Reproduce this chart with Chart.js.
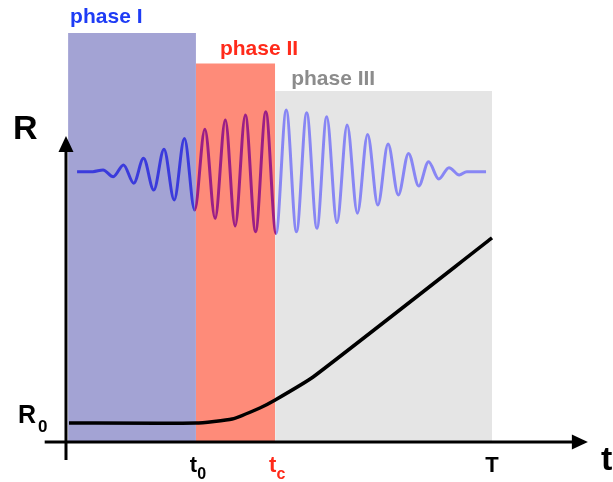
<!DOCTYPE html>
<html>
<head>
<meta charset="utf-8">
<script src="https://cdn.jsdelivr.net/npm/chart.js@4/dist/chart.umd.min.js"></script>
<style>
  html, body { margin: 0; padding: 0; background: #fff; }
  #wrap { width: 613px; height: 482px; }
</style>
</head>
<body>
<div id="wrap"><canvas id="phaseChart" width="613" height="482"></canvas></div>
<script>
// phases (time units: origin = 0, T = 10 ; R units: R0 = 1)
const phaseNames = ['phase I', 'phase II', 'phase III'];
const phaseStart = [0.05, 3.05, 4.91];
const phaseEnd = [3.05, 4.91, 10.0];
const phaseTop = [21.53, 19.92, 18.47];

// signal wave, read peak by peak
const waveT = [0.26, 0.63, 0.87, 1.11, 1.35, 1.59, 1.82, 2.06, 2.30, 2.54,
  2.78, 3.02, 3.26, 3.50, 3.74, 3.97, 4.21, 4.45, 4.69, 4.93,
  5.17, 5.41, 5.65, 5.89, 6.12, 6.36, 6.60, 6.84, 7.08, 7.32,
  7.56, 7.80, 8.04, 8.28, 8.51, 8.75, 8.99, 9.23, 9.41, 9.86];
const waveR = [14.23, 14.23, 14.32, 13.96, 14.58, 13.62, 14.93, 13.26, 15.41, 12.74,
  15.98, 12.21, 16.46, 11.77, 16.95, 11.37, 17.21, 11.07, 17.38, 10.98,
  17.47, 11.07, 17.33, 11.25, 17.12, 11.55, 16.68, 12.04, 16.19, 12.47,
  15.68, 13.0, 15.19, 13.47, 14.75, 13.84, 14.44, 14.05, 14.23, 14.23];

// R(t) curve
const curveT = [0.07, 3.05, 3.90, 4.55, 4.91, 5.80, 10.0];
const curveR = [1.0, 1.0, 1.21, 1.79, 2.21, 3.42, 10.74];

// axis marks
const tickT = [3.05, 4.91, 10.0];
const tickMain = ['t', 't', 'T'];
const tickSub = ['0', 'c', ''];
const levelR0 = 1.0;

const rectColors = ['#a3a3d4', '#fe8b79', '#e5e5e5'];
const waveColors = ['#3b3bdc', '#9b1f86', '#8886f4'];
const labelColors = ['#1e3cf5', '#ff2a1a', '#8c8c8c'];
const tickColors = ['#000', '#ff2a1a', '#000'];
const FONT = '"Liberation Sans", Arial, sans-serif';

function toPoints(xs, ys) {
  return xs.map((v, i) => ({ x: v, y: ys[i] }));
}

const rectSets = phaseNames.map((name, i) => ({
  label: name,
  data: [{ x: phaseStart[i], y: phaseTop[i] }, { x: phaseEnd[i], y: phaseTop[i] }],
  borderWidth: 0,
  pointRadius: 0,
  fill: 'origin',
  backgroundColor: rectColors[i],
  order: 3
}));

function phaseOf(t) {
  if (t < phaseStart[1]) return 0;
  if (t < phaseStart[2]) return 1;
  return 2;
}

// axes, arrows and text
const overlay = {
  id: 'overlay',
  afterDatasetsDraw(chart) {
    const { ctx, scales: { x, y } } = chart;
    const ox = x.getPixelForValue(0);
    const oy = y.getPixelForValue(0);
    ctx.save();
    ctx.strokeStyle = '#000';
    ctx.fillStyle = '#000';
    ctx.lineWidth = 3;

    // vertical axis
    const topY = y.getPixelForValue(16.1);
    ctx.beginPath();
    ctx.moveTo(ox, y.getPixelForValue(-0.95));
    ctx.lineTo(ox, topY + 12);
    ctx.stroke();
    ctx.beginPath();
    ctx.moveTo(ox, topY);
    ctx.lineTo(ox - 7.5, topY + 16);
    ctx.lineTo(ox + 7.5, topY + 16);
    ctx.closePath();
    ctx.fill();

    // horizontal axis
    const rightX = x.getPixelForValue(12.25);
    ctx.beginPath();
    ctx.moveTo(x.getPixelForValue(-0.5), oy);
    ctx.lineTo(rightX - 12, oy);
    ctx.stroke();
    ctx.beginPath();
    ctx.moveTo(rightX, oy);
    ctx.lineTo(rightX - 16, oy - 7.5);
    ctx.lineTo(rightX - 16, oy + 7.5);
    ctx.closePath();
    ctx.fill();

    ctx.textBaseline = 'alphabetic';
    ctx.textAlign = 'left';

    // phase titles
    const titleDx = [2, 24, 16];
    const titleDy = [-10, -8.5, -6];
    phaseNames.forEach((name, i) => {
      ctx.font = 'bold 21px ' + FONT;
      ctx.fillStyle = labelColors[i];
      ctx.fillText(name, x.getPixelForValue(phaseStart[i]) + titleDx[i], y.getPixelForValue(phaseTop[i]) + titleDy[i]);
    });

    // axis names
    ctx.fillStyle = '#000';
    ctx.font = 'bold 34px ' + FONT;
    ctx.fillText('R', 13, topY + 3);
    ctx.fillText('t', 601, oy + 28);

    // R0
    const r0y = y.getPixelForValue(levelR0);
    ctx.font = 'bold 25px ' + FONT;
    ctx.fillText('R', 18, r0y);
    ctx.font = 'bold 17px ' + FONT;
    ctx.fillText('0', 38, r0y + 9);

    // time ticks
    tickT.forEach((t, i) => {
      ctx.fillStyle = tickColors[i];
      ctx.font = 'bold 22px ' + FONT;
      const mainW = ctx.measureText(tickMain[i]).width;
      ctx.font = 'bold 16px ' + FONT;
      const subW = tickSub[i] ? ctx.measureText(tickSub[i]).width : 0;
      const left = x.getPixelForValue(t) - (mainW + subW) / 2 + (subW ? 2 : 0);
      ctx.font = 'bold 22px ' + FONT;
      ctx.fillText(tickMain[i], left, oy + 30);
      if (subW) {
        ctx.font = 'bold 16px ' + FONT;
        ctx.fillText(tickSub[i], left + mainW, oy + 37);
      }
    });
    ctx.restore();
  }
};

new Chart(document.getElementById('phaseChart'), {
  type: 'line',
  data: {
    datasets: [
      {
        label: 'R(t)',
        data: toPoints(curveT, curveR),
        borderColor: '#000',
        borderWidth: 3.5,
        pointRadius: 0,
        tension: 0.15,
        fill: false,
        order: 1
      },
      {
        label: 'signal',
        data: toPoints(waveT, waveR),
        borderWidth: 3,
        pointRadius: 0,
        cubicInterpolationMode: 'monotone',
        fill: false,
        borderColor: waveColors[0],
        segment: {
          borderColor: c => waveColors[phaseOf((c.p0.parsed.x + c.p1.parsed.x) / 2)]
        },
        order: 2
      },
      ...rectSets
    ]
  },
  options: {
    responsive: false,
    animation: false,
    devicePixelRatio: 1,
    layout: { padding: 0 },
    clip: false,
    plugins: { legend: { display: false }, tooltip: { enabled: false } },
    scales: {
      x: { type: 'linear', min: -1.549, max: 12.840, display: false },
      y: { type: 'linear', min: -2.105, max: 23.263, display: false }
    }
  },
  plugins: [overlay]
});
</script>
</body>
</html>
